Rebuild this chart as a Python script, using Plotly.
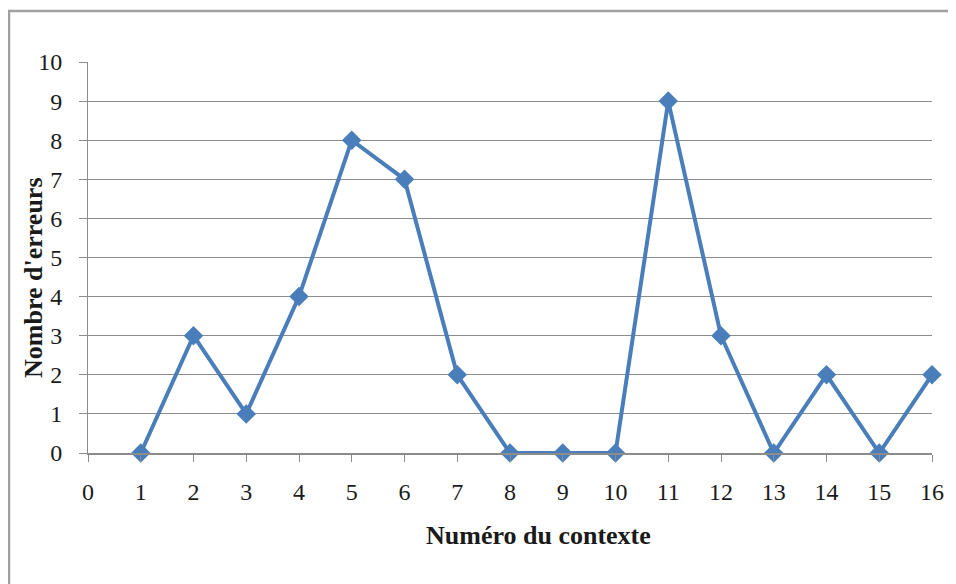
import plotly.graph_objects as go

contexte = [1, 2, 3, 4, 5, 6, 7, 8, 9, 10, 11, 12, 13, 14, 15, 16]
erreurs = [0, 3, 1, 4, 8, 7, 2, 0, 0, 0, 9, 3, 0, 2, 0, 2]

x_ticks = list(range(0, 17))
y_ticks = list(range(0, 11))

SERIF = "Liberation Serif, Times New Roman, serif"
BLUE = "#4A7EBB"
GRID = "#8C8C8C"

# the page body adds an 8px offset, so the figure is 8px smaller than the window
PW, PH = 844, 391  # plot area size in px

fig = go.Figure()

fig.add_trace(go.Scatter(
    x=contexte, y=erreurs,
    mode="lines+markers",
    line=dict(color=BLUE, width=4),
    marker=dict(symbol="diamond", size=15, color=BLUE),
    cliponaxis=False,
    showlegend=False
))

fig.update_layout(
    width=948, height=576,
    paper_bgcolor="white",
    plot_bgcolor="white",
    margin=dict(l=80, r=24, t=54, b=131),
    font=dict(family=SERIF, size=24, color="#1a1a1a"),
    xaxis=dict(
        range=[0, 16],
        tickvals=x_ticks,
        showgrid=False,
        zeroline=False,
        showline=True, linecolor=GRID, linewidth=1.5,
        ticks="outside", ticklen=7, tickcolor=GRID,
        ticklabelstandoff=9,
    ),
    yaxis=dict(
        range=[0, 10],
        tickvals=y_ticks,
        showgrid=True, gridcolor=GRID, gridwidth=1,
        zeroline=False,
        showline=True, linecolor=GRID, linewidth=1,
        ticks="outside", ticklen=8, tickcolor=GRID,
        ticklabelstandoff=12,
    ),
    shapes=[dict(
        type="rect", xref="paper", yref="paper",
        x0=-79 / PW, x1=(947 - 80) / PW,
        y0=-141 / PH, y1=1 + 51 / PH,
        line=dict(color="#a0a0a0", width=2.5),
        fillcolor="rgba(0,0,0,0)",
    )],
    annotations=[
        dict(
            text="<b>Numéro du contexte</b>",
            xref="paper", yref="paper",
            x=450 / PW, y=-82 / PH,
            showarrow=False, font=dict(size=26, family=SERIF),
            xanchor="center", yanchor="middle",
        ),
        dict(
            text="<b>Nombre d'erreurs</b>",
            xref="paper", yref="paper",
            x=-55 / PW, y=175 / PH,
            showarrow=False, textangle=-90,
            font=dict(size=26, family=SERIF),
            xanchor="center", yanchor="middle",
        ),
    ],
)

fig.write_html("out.html")
